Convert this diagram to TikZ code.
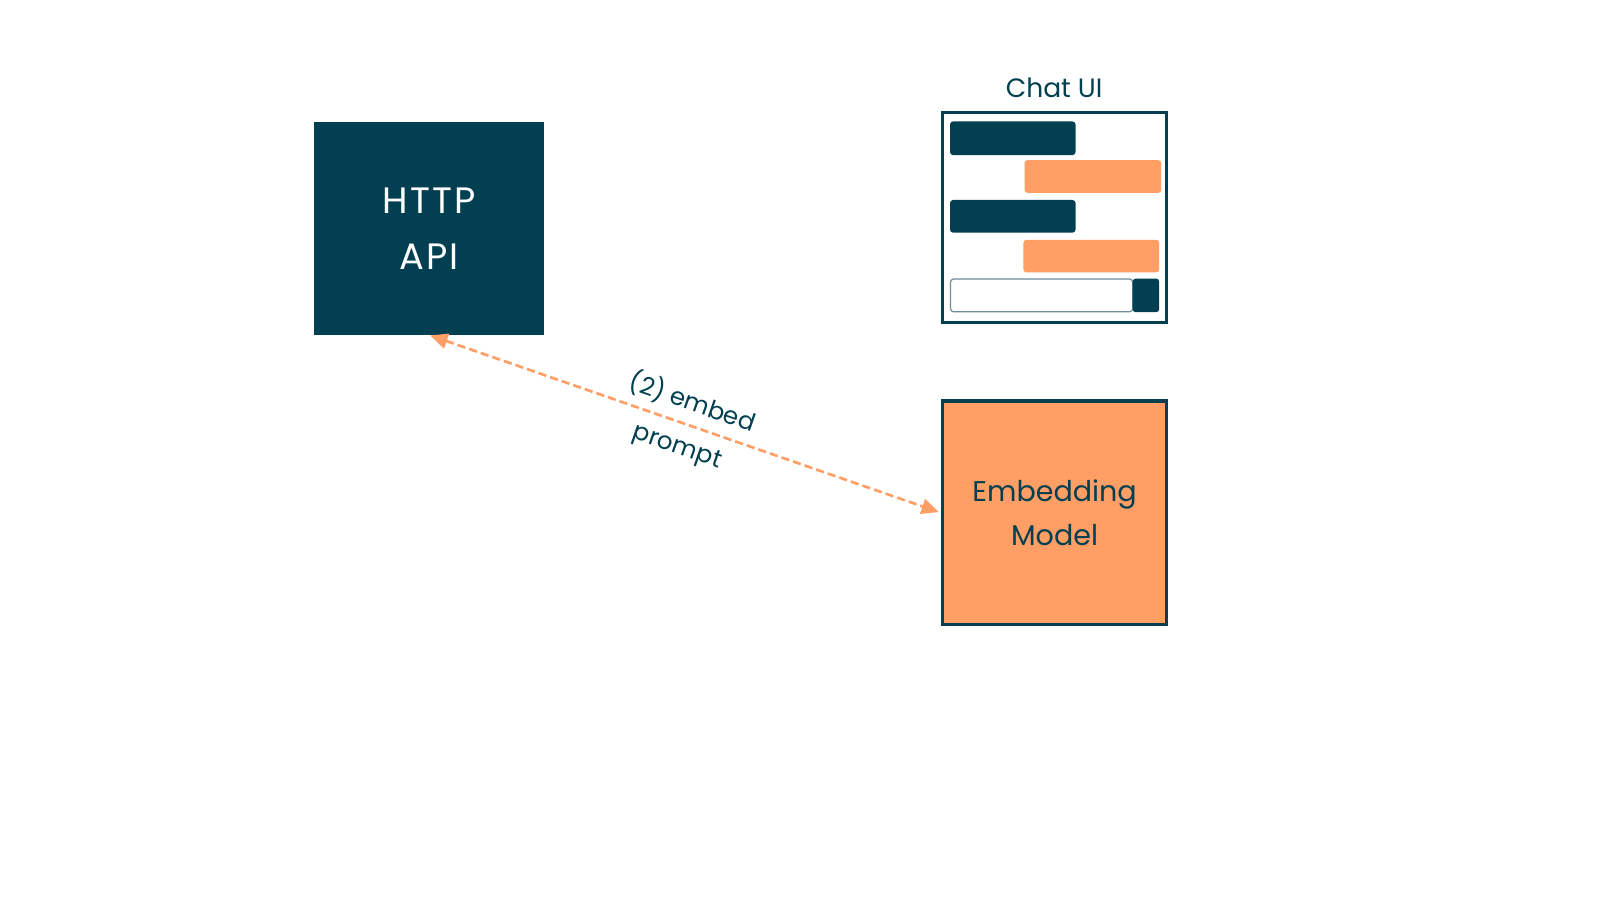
\documentclass[tikz,border=0pt]{standalone}
\usepackage{fontspec}
\setmainfont{Poppins}
\usetikzlibrary{arrows.meta}
\definecolor{teal}{HTML}{023F50}
\definecolor{orng}{HTML}{FF9E65}
\definecolor{inbord}{HTML}{6E8E98}
\tikzset{
  bar/.style={rounded corners=3pt, draw=none},
  conn/.style={draw=orng, line width=2.6pt, dash pattern=on 8pt off 4pt,
    {Triangle[length=17pt,width=15pt]}-{Triangle[length=17pt,width=15pt]}, shorten <=1pt, shorten >=2pt},
}
\begin{document}%
\begin{tikzpicture}[x=1pt,y=-1pt]%
\useasboundingbox (0,0) rectangle (1568,882);
\fill[white] (0,0) rectangle (1568,882);
% HTTP API
\node[fill=teal, minimum width=225pt, minimum height=209pt, inner sep=0pt, anchor=north west,
  text=white, align=center, font=\fontsize{36}{55}\selectfont\addfontfeatures{LetterSpace=6}] (http) at (308,119) {HTTP\\API};
% Chat UI
\node[draw=teal, line width=3pt, minimum width=220pt, minimum height=206pt, inner sep=0pt, anchor=north west] (chat) at (922,109) {};
\node[text=teal, font=\fontsize{26}{30}\selectfont, anchor=base] (chatlbl) at (1033,96) {Chat UI};
\fill[teal, bar] (931,119) rectangle (1054,152);
\fill[orng, bar] (1004,157) rectangle (1138,189);
\fill[teal, bar] (931,196) rectangle (1054,228);
\fill[orng, bar] (1003,235) rectangle (1136,267);
\draw[inbord, line width=1.2pt, rounded corners=3pt] (931.5,273.5) rectangle (1110,305.5);
\fill[teal, bar] (1110,273) rectangle (1136,306);
% Embedding model
\node[draw=teal, fill=orng, line width=3pt, minimum width=220pt, minimum height=219pt, inner sep=0pt, anchor=north west,
  text=teal, align=center, font=\fontsize{28}{43}\selectfont] (emb) at (922,391.5) {Embedding\\Model};
% connector
\draw[conn] (http.south) -- (emb.west)
  node[midway, sloped, text=teal, align=center, font=\fontsize{24}{44}\selectfont] (lbl) {(2) embed\\prompt};
\end{tikzpicture}%
\end{document}
